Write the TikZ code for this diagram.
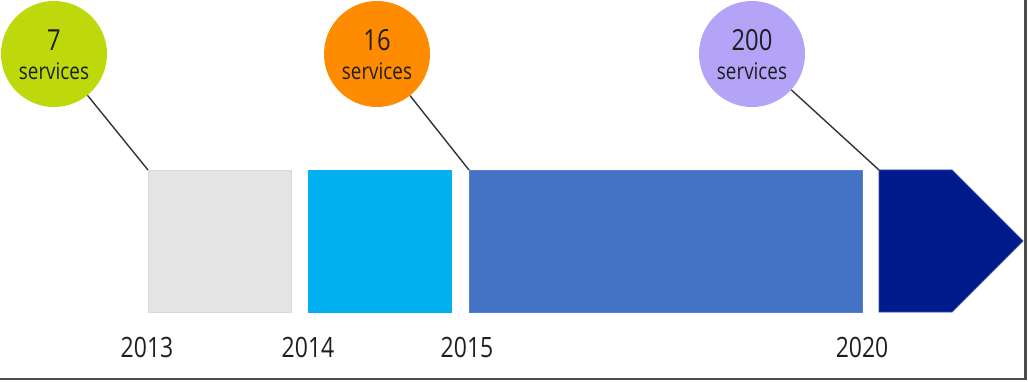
\documentclass[tikz,border=0pt]{standalone}
\usepackage{fontspec}
\setmainfont{Open Sans}[FakeStretch=0.82]
\definecolor{cgreen}{HTML}{BDD90B}
\definecolor{corange}{HTML}{FF8C00}
\definecolor{cpurple}{HTML}{B4A4F8}
\definecolor{cgrey}{HTML}{E4E4E4}
\definecolor{cgreyb}{HTML}{D8D8D8}
\definecolor{ccyan}{HTML}{00B0F0}
\definecolor{cblue}{HTML}{4472C4}
\definecolor{cnavy}{HTML}{001A8C}
\definecolor{cnavyb}{HTML}{2E4B9E}
\definecolor{ctext}{HTML}{1E1E1E}
\tikzset{
  bubble/.style={circle, inner sep=0pt, minimum size=106pt},
  numtxt/.style={text=ctext, font=\fontsize{29}{30}\selectfont, inner sep=0pt},
  svctxt/.style={text=ctext, font=\fontsize{23}{24}\selectfont, inner sep=0pt},
  yeartxt/.style={text=ctext, font=\fontsize{28}{30}\selectfont, inner sep=0pt},
  period/.style={rectangle, inner sep=0pt, anchor=north west, minimum height=142pt, line width=0.8pt},
  leader/.style={draw=black!80, line width=1.4pt}
}
\begin{document}
\begin{tikzpicture}[x=1pt,y=-1pt]
\useasboundingbox (0,0) rectangle (1028,382);
% frame
\draw[color=black!70, line width=2.6pt] (0,379) -- (1025.5,379) -- (1025.5,0);
% boxes
\node[period, fill=cgrey, draw=cgreyb, minimum width=143pt] (b1) at (148,170) {};
\node[period, fill=ccyan, draw=ccyan, minimum width=143pt] (b2) at (308,170) {};
\node[period, fill=cblue, draw=cblue!90!white, minimum width=393pt] (b3) at (469,170) {};
\coordinate (p1) at (879,170);
\coordinate (p2) at (952,170);
\coordinate (p3) at (1023,241);
\coordinate (p4) at (952,312);
\coordinate (p5) at (879,312);
\draw[fill=cnavy, draw=cnavyb, line width=0.8pt] (p1) -- (p2) -- (p3) -- (p4) -- (p5) -- cycle;
% bubbles
\node[bubble, fill=cgreen] (c1) at (54,54) {};
\node[bubble, fill=corange] (c2) at (377,54) {};
\node[bubble, fill=cpurple] (c3) at (752,54) {};
\node[numtxt] (n1) at (54,40) {7};
\node[svctxt] (s1) at (54,71) {services};
\node[numtxt] (n2) at (377,40) {16};
\node[svctxt] (s2) at (377,71) {services};
\node[numtxt] (n3) at (752,40) {200};
\node[svctxt] (s3) at (752,71) {services};
% leaders
\draw[leader] (c1) -- (b1.north west);
\draw[leader] (c2) -- (b3.north west);
\draw[leader] (c3) -- (p1);
% years
\node[yeartxt] (y1) at (147,347) {2013};
\node[yeartxt] (y2) at (308,347) {2014};
\node[yeartxt] (y3) at (467,347) {2015};
\node[yeartxt] (y4) at (862,347) {2020};
\end{tikzpicture}
\end{document}
